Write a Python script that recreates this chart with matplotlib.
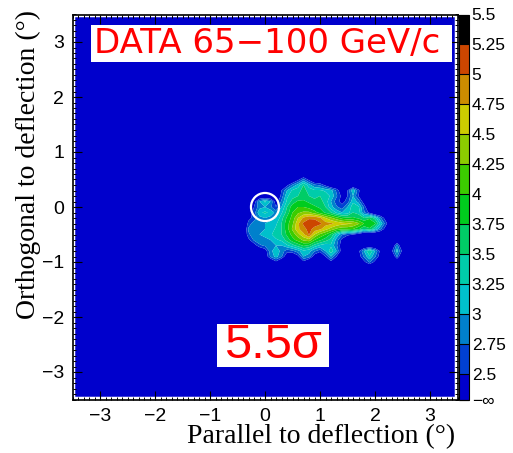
import numpy as np
import matplotlib
matplotlib.use('Agg')
import matplotlib.pyplot as plt
from matplotlib.colors import ListedColormap, BoundaryNorm
from matplotlib.patches import Circle, Rectangle
from matplotlib.cm import ScalarMappable
from matplotlib.ticker import MultipleLocator

# significance map (in sigma), 0.1 deg bins around the excess
par_x = [round(-0.3 + 0.1 * i, 1) for i in range(30)]
orth_y = [round(0.5 - 0.1 * j, 1) for j in range(16)]
base_sig = 2.0

sig_rows = [
    [2, 2, 2, 2, 2, 2, 2, 2, 2, 2.4, 2.8, 2.4, 2, 2, 2, 2, 2, 2, 2, 2, 2, 2, 2, 2, 2, 2, 2, 2, 2, 2],
    [2, 2, 2, 2, 2, 2, 2, 2.4, 2.8, 3.1, 3.5, 3.1, 2.8, 2.7, 2.4, 2, 2, 2, 2, 2, 2, 2, 2, 2, 2, 2, 2, 2, 2, 2],
    [2, 2, 2, 2, 2, 2, 2.5, 3.0, 3.3, 3.4, 3.6, 3.4, 3.3, 3.3, 3.2, 3.1, 2.7, 2.2, 2.5, 3.2, 2.6, 2, 2, 2, 2, 2, 2, 2, 2, 2],
    [2, 2, 2, 2, 2, 2, 2.6, 3.2, 3.4, 3.5, 3.6, 3.5, 3.4, 3.5, 3.4, 3.2, 2.8, 2.4, 2.5, 3.0, 2.5, 2, 2, 2, 2, 2, 2, 2, 2, 2],
    [2, 2.3, 3.0, 3.3, 3.0, 2.3, 2.8, 3.3, 3.6, 3.8, 3.8, 3.7, 3.6, 3.6, 3.4, 3.0, 2.6, 2.4, 2.6, 3.2, 2.9, 2.3, 2, 2, 2, 2, 2, 2, 2, 2],
    [2, 2.5, 2.9, 3.0, 2.8, 2.5, 3.0, 3.5, 3.9, 4.0, 4.0, 3.9, 3.8, 3.7, 3.5, 3.1, 2.8, 2.6, 3.0, 3.4, 3.3, 2.7, 2, 2, 2, 2, 2, 2, 2, 2],
    [2.3, 2.6, 3.2, 3.3, 3.2, 2.9, 3.2, 3.6, 4.0, 4.2, 4.3, 4.3, 4.1, 3.9, 3.7, 3.5, 3.2, 3.0, 3.1, 3.5, 3.4, 2.8, 2.4, 2, 2, 2, 2, 2, 2, 2],
    [2.4, 2.6, 2.9, 3.0, 2.9, 3.0, 3.4, 3.8, 4.1, 4.5, 4.8, 4.95, 4.95, 4.8, 4.5, 4.3, 4.1, 3.9, 3.8, 3.8, 3.7, 3.5, 3.7, 3.4, 2.8, 2.3, 2, 2, 2, 2],
    [2.6, 2.9, 3.0, 3.0, 3.1, 3.2, 3.5, 3.9, 4.2, 4.7, 5.05, 5.2, 5.15, 5.05, 4.85, 4.8, 4.7, 4.6, 4.55, 4.5, 4.3, 4.0, 4.0, 3.8, 3.2, 2.6, 2, 2, 2, 2],
    [2.8, 3.0, 3.0, 3.0, 3.1, 3.3, 3.5, 3.9, 4.3, 4.7, 4.9, 5.1, 4.9, 4.8, 4.6, 4.4, 4.2, 4.1, 4.1, 4.0, 3.8, 3.5, 3.7, 3.3, 2.8, 2.3, 2, 2, 2, 2],
    [2.7, 2.9, 3.0, 3.1, 3.2, 3.4, 3.5, 3.8, 4.1, 4.4, 4.7, 5.02, 4.5, 4.2, 4.0, 3.7, 3.2, 2.8, 2.6, 2.5, 2.3, 2, 2, 2, 2, 2, 2, 2, 2, 2],
    [2.4, 2.8, 2.9, 2.9, 3.0, 3.2, 3.3, 3.6, 3.9, 4.1, 4.3, 4.4, 4.0, 3.8, 3.6, 3.4, 2.9, 2.4, 2, 2, 2, 2, 2, 2, 2, 2, 2, 2, 2, 2],
    [2, 2.3, 2.7, 2.8, 2.9, 3.0, 3.0, 3.2, 3.4, 3.6, 3.8, 3.7, 3.4, 3.2, 3.1, 3.2, 2.8, 2.3, 2, 2, 2, 2, 2, 2, 2, 2, 2, 2.9, 2, 2],
    [2, 2, 2, 2.3, 2.9, 3.2, 2.9, 2.6, 2.7, 2.9, 3.2, 3.1, 2.8, 2.6, 3.0, 3.4, 3.0, 2.3, 2, 2, 2.4, 3.0, 3.5, 3.0, 2.4, 2, 2.4, 3.1, 2.4, 2],
    [2, 2, 2, 2.2, 2.8, 3.1, 2.8, 2.2, 2, 2.4, 3.0, 2.9, 2.3, 2, 2.5, 3.0, 2.5, 2, 2, 2, 2.3, 2.8, 3.2, 2.8, 2.3, 2, 2, 2.8, 2, 2],
    [2, 2, 2, 2, 2, 2.4, 2, 2, 2, 2, 2.4, 2, 2, 2, 2, 2.4, 2, 2, 2, 2, 2, 2.4, 2.8, 2.4, 2, 2, 2, 2, 2, 2],
]

levels = [2.29, 2.5, 2.75, 3.0, 3.25, 3.5, 3.75, 4.0, 4.25, 4.5, 4.75, 5.0, 5.25, 5.5]
cbar_labels = ['\u2212\u221e', '2.5', '2.75', '3', '3.25', '3.5', '3.75', '4',
               '4.25', '4.5', '4.75', '5', '5.25', '5.5']
band_colors = ['#0000cc', '#0040d2', '#0080cc', '#00c0cc', '#00ccaa', '#00cc66',
               '#00cc1e', '#3ccc00', '#8ccc00', '#cccc00', '#cc8c00', '#cc4600', '#000000']

title_text = 'DATA 65\u2212100 GeV/c'
sigma_text = '5.5\u03c3'

sans = ['Liberation Sans', 'DejaVu Sans']
wide = ['DejaVu Sans']
serif = ['Liberation Serif', 'DejaVu Serif']

# pad the map so it fills the frame (leaving the thin white strip ROOT shows)
xs = np.array([-3.45, -0.4] + par_x + [2.7, 3.45])
ys = np.array([3.45, 0.6] + orth_y + [-1.1, -3.45])
Z = np.pad(np.array(sig_rows, dtype=float), 2, constant_values=base_sig)

fig = plt.figure(figsize=(5.13, 4.53), dpi=100)
ax = fig.add_axes([72.5 / 513, 53.5 / 453, 385 / 513, 385 / 453])
ax.set_facecolor('white')

fill_levels = [-100] + levels[1:]
ax.contourf(xs, ys, Z, levels=fill_levels, colors=band_colors, antialiased=True)

ax.add_patch(Circle((0, 0), 0.255, fill=False, edgecolor='white', lw=1.6, zorder=5))

ax.set_xlim(-3.5, 3.5)
ax.set_ylim(-3.5, 3.5)
ax.xaxis.set_major_locator(MultipleLocator(1))
ax.yaxis.set_major_locator(MultipleLocator(1))
ax.xaxis.set_minor_locator(MultipleLocator(0.1))
ax.yaxis.set_minor_locator(MultipleLocator(0.1))
ax.tick_params(which='both', direction='in', top=True, right=True, color='black')
ax.tick_params(which='major', length=6.5, width=0.8, labelsize=14, pad=6)
ax.tick_params(which='minor', length=2.5, width=0.7)
for lab in ax.get_xticklabels() + ax.get_yticklabels():
    lab.set_family(sans)
for sp in ax.spines.values():
    sp.set_linewidth(1.2)

# label boxes
ax.add_patch(Rectangle((0.048, 0.877), 0.938, 0.097, transform=ax.transAxes,
                       facecolor='white', edgecolor='none', zorder=6))
ax.text(0.056, 0.925, title_text, transform=ax.transAxes, color='#ff0000',
        fontsize=24.5, family=wide, ha='left', va='center', zorder=7)
ax.add_patch(Rectangle((0.375, 0.084), 0.291, 0.112, transform=ax.transAxes,
                       facecolor='white', edgecolor='none', zorder=6))
ax.text(0.52, 0.14, sigma_text, transform=ax.transAxes, color='#ff0000',
        fontsize=35, family=sans, ha='center', va='center', zorder=7)

fig.text(455 / 513, 10 / 453, 'Parallel to deflection (\u00b0)', family=serif,
         fontsize=20, ha='right', va='baseline')
fig.text(28 / 513, 443 / 453, 'Orthogonal to deflection (\u00b0)', family=serif,
         fontsize=20, ha='center', va='top', rotation=90)

# colour scale
cax = fig.add_axes([459 / 513, 53.5 / 453, 10 / 513, 385 / 453])
cmap = ListedColormap(band_colors)
norm = BoundaryNorm(levels, cmap.N)
cb = fig.colorbar(ScalarMappable(norm=norm, cmap=cmap), cax=cax,
                  ticks=levels, spacing='proportional')
cb.ax.set_yticklabels(cbar_labels)
cb.ax.tick_params(direction='in', length=7, width=0.8, labelsize=12.5, pad=2)
for lab in cb.ax.get_yticklabels():
    lab.set_family(sans)
cb.outline.set_linewidth(0.8)

fig.savefig('out.png', dpi=100)
